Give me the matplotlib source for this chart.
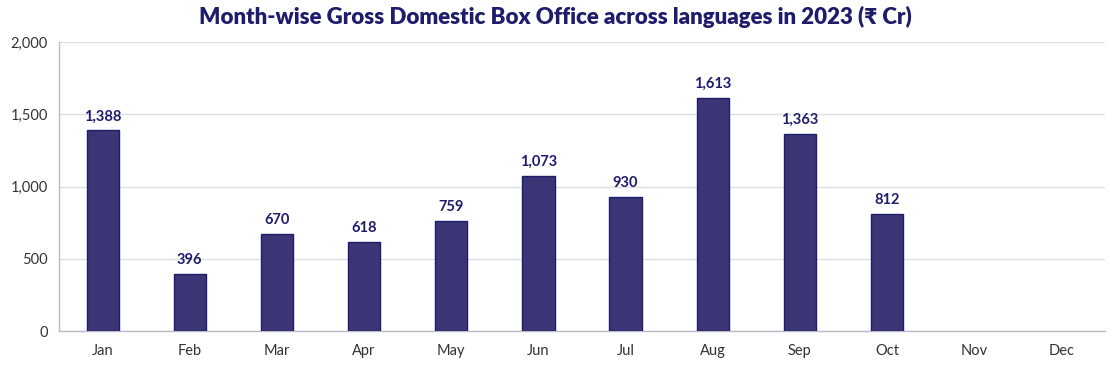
import matplotlib
matplotlib.use("Agg")
import matplotlib.pyplot as plt

months = ["Jan", "Feb", "Mar", "Apr", "May", "Jun", "Jul", "Aug", "Sep", "Oct", "Nov", "Dec"]
values = [1388, 396, 670, 618, 759, 1073, 930, 1613, 1363, 812, None, None]
yticks = [0, 500, 1000, 1500, 2000]

plt.rcParams['font.family'] = ['Lato', 'DejaVu Sans']

fig = plt.figure(figsize=(11.1, 3.66), dpi=100)
ax = fig.add_axes([0.0532, 0.0956, 0.9423, 0.7894])

navy = "#1f1c6b"
bar_color = "#3b3575"

xs = [i for i, v in enumerate(values) if v is not None]
vs = [v for v in values if v is not None]
bars = ax.bar(xs, vs, width=0.37, color=bar_color, edgecolor=navy, linewidth=1.0, zorder=3)
for x, v in zip(xs, vs):
    ax.annotate(f"{v:,}", (x, v), xytext=(0, 5), textcoords="offset points",
                ha="center", va="bottom", fontsize=10.5, fontweight="bold", color=navy)

ax.set_xlim(-0.5, 11.5)
ax.set_ylim(0, 2000)
ax.set_xticks(range(len(months)))
ax.set_xticklabels(months)
ax.set_yticks(yticks)
ax.set_yticklabels([f"{t:,}" for t in yticks])
ax.tick_params(axis="both", length=0, labelsize=10.5, labelcolor="#333333")
ax.tick_params(axis="x", pad=9)
ax.tick_params(axis="y", pad=8)
ax.grid(axis="y", color="#dddddd", linewidth=0.9, zorder=0)
for s in ["top", "right"]:
    ax.spines[s].set_visible(False)
for s in ["left", "bottom"]:
    ax.spines[s].set_color("#b8bcc6")
    ax.spines[s].set_linewidth(1.0)

fig.text(0.5, 0.955, "Month-wise Gross Domestic Box Office across languages in 2023 (₹ Cr)",
         ha="center", va="center", fontsize=16, fontweight="heavy", color=navy,
         family=['Lato', 'DejaVu Sans'])

fig.savefig("out.png", dpi=100)
